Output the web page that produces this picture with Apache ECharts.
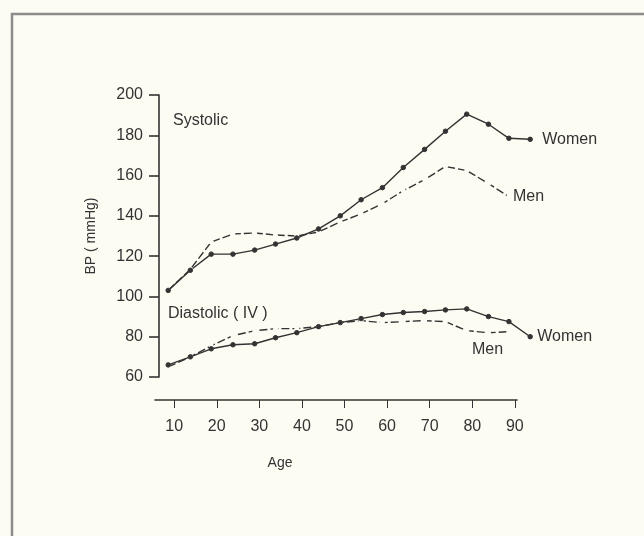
<!DOCTYPE html>
<html lang="en">
<head>
    <meta charset="UTF-8">
    <title>BP by age</title>
    <script type="text/javascript" src="https://cdn.jsdelivr.net/npm/echarts@6/dist/echarts.min.js"></script>
    <style type="text/css">
        html, body {
            margin: 0;
            padding: 0;
            background: #fdfcf3;
        }
        .chart {
            width: 644px;
            height: 536px;
        }
    </style>
</head>
<body>
<div class="chart"></div>
<script type="text/javascript">
    // age points (roughly every 5 years)
    const ages = [8.6, 13.8, 18.7, 23.8, 28.9, 33.8, 38.8, 43.9, 49, 53.9, 58.9, 63.8, 68.8, 73.7, 78.7, 83.8, 88.6, 93.6];
    const sysWomen = [103, 113, 121, 121, 123, 126, 129, 133.5, 140, 148, 154, 164, 173, 182, 190.5, 185.5, 178.5, 178];
    const sysMen = [103, 113.5, 127, 131, 131.5, 130.5, 130, 132, 137, 141, 146, 152.5, 158, 164.5, 162.5, 156, 149.5];
    const diaWomen = [66, 70, 74, 76, 76.5, 79.5, 82, 85, 87, 89, 91, 92, 92.5, 93.3, 93.8, 90, 87.5, 80];
    const diaMen = [65, 70, 75.5, 80.5, 83, 84, 84, 85, 87, 88, 87, 87.5, 88, 87.5, 83, 82, 82.5];
    const ageTicks = [10, 20, 30, 40, 50, 60, 70, 80, 90];

    const ink = '#333333';
    const font = 'Liberation Sans';
    const pxPerYear = 362 / 85;

    function pairs(vals) {
        return vals.map(function (v, i) { return [ages[i], v]; });
    }

    // lines sit in a second, wider grid with the same scale so the last
    // women point can run past the drawn age axis like in the original
    function makeSeries(vals, dashed, label, labelOpt) {
        return {
            type: 'line',
            xAxisIndex: 1,
            yAxisIndex: 1,
            data: pairs(vals),
            clip: false,
            symbol: dashed ? 'emptyCircle' : 'circle',
            symbolSize: dashed ? 3 : 4.5,
            itemStyle: {color: dashed ? '#fdfcf3' : ink, borderColor: ink, borderWidth: 1},
            lineStyle: {color: ink, width: 1.4, type: dashed ? [8, 3] : 'solid'},
            endLabel: Object.assign({
                show: true,
                formatter: label,
                color: ink,
                fontFamily: font,
                fontSize: 16
            }, labelOpt)
        };
    }

    const chart = echarts.init(document.querySelector('.chart'));
    chart.setOption({
        animation: false,
        backgroundColor: '#fdfcf3',
        grid: [
            {left: 155, right: 127, top: 95, bottom: 159},
            {left: 155, width: pxPerYear * 90, top: 95, bottom: 159}
        ],
        xAxis: [{
            type: 'value',
            gridIndex: 0,
            min: 5.5,
            max: 90.5,
            offset: 23,
            name: 'Age',
            nameLocation: 'middle',
            nameGap: 56,
            nameTextStyle: {color: ink, fontFamily: font, fontSize: 14, padding: [0, 112, 0, 0]},
            axisLine: {lineStyle: {color: ink, width: 1.6}},
            axisTick: {length: 8, customValues: ageTicks, lineStyle: {color: ink, width: 1}},
            axisLabel: {customValues: ageTicks, margin: 19, color: ink, fontFamily: font, fontSize: 16},
            splitLine: {show: false}
        }, {
            type: 'value',
            gridIndex: 1,
            min: 5.5,
            max: 95.5,
            show: false
        }],
        yAxis: [{
            type: 'value',
            gridIndex: 0,
            min: 60,
            max: 200,
            interval: 20,
            offset: -4,
            name: 'BP ( mmHg)',
            nameLocation: 'middle',
            nameGap: 61,
            nameTextStyle: {color: ink, fontFamily: font, fontSize: 14},
            axisLine: {show: true, lineStyle: {color: ink, width: 1.6}},
            axisTick: {show: true, length: 10, lineStyle: {color: ink, width: 1.6}},
            axisLabel: {margin: 16, color: ink, fontFamily: font, fontSize: 16},
            splitLine: {show: false}
        }, {
            type: 'value',
            gridIndex: 1,
            min: 60,
            max: 200,
            show: false
        }],
        // men first so the solid women dots stay on top where the lines meet
        series: [
            makeSeries(sysMen, true, 'Men', {distance: 4}),
            makeSeries(diaMen, true, 'Men', {distance: 0, offset: [-37, 18]}),
            makeSeries(sysWomen, false, 'Women', {distance: 12}),
            makeSeries(diaWomen, false, 'Women', {distance: 7})
        ],
        graphic: [
            {
                type: 'polyline',
                shape: {points: [[644, 14], [12, 14], [12, 536]]},
                style: {stroke: '#8c8c8c', lineWidth: 2.5, fill: null}
            },
            {
                type: 'text', left: 173, top: 113,
                style: {text: 'Systolic', fill: ink, font: '16px "Liberation Sans"'}
            },
            {
                type: 'text', left: 168, top: 306,
                style: {text: 'Diastolic ( IV )', fill: ink, font: '16px "Liberation Sans"'}
            }
        ]
    });
</script>
</body>
</html>
